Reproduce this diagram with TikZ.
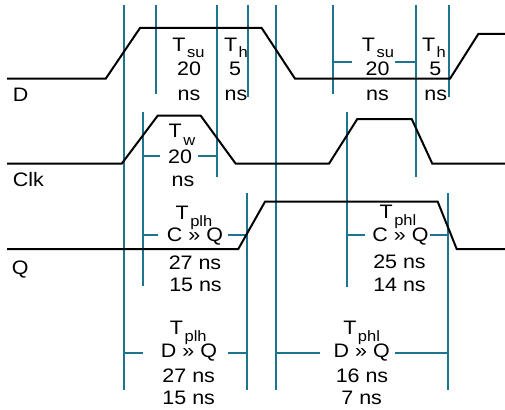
\documentclass[tikz,border=0pt]{standalone}
\usepackage{fontspec}
\setmainfont{Liberation Sans}[FakeStretch=1.1]
\definecolor{tealline}{RGB}{27,117,145}
\newcommand{\Tsb}[2]{T\kern1.5pt\raisebox{-#2pt}{\fontsize{15}{15}\selectfont #1}}
\begin{document}
\begin{tikzpicture}[x=1pt,y=-1pt,
  wave/.style={line width=2pt,black},
  vline/.style={line width=2pt,tealline},
  dimline/.style={line width=2pt,tealline},
  lbl/.style={anchor=base,inner sep=0pt,font=\fontsize{19.5}{19.5}\selectfont}]
\useasboundingbox (0,0) rectangle (505,409);
% vertical reference lines
\draw[vline] (124,5) -- (124,390);
\draw[vline] (155.7,5) -- (155.7,94);
\draw[vline] (217,5) -- (217,177);
\draw[vline] (248,5) -- (248,97);
\draw[vline] (142.7,111.7) -- (142.7,286);
\draw[vline] (247,193) -- (247,390);
\draw[vline] (275.7,5) -- (275.7,390);
\draw[vline] (333.3,5) -- (333.3,94);
\draw[vline] (415.7,5) -- (415.7,177);
\draw[vline] (449,5) -- (449,97);
\draw[vline] (347.3,111.7) -- (347.3,286.7);
\draw[vline] (448.3,193) -- (448.3,390);
% dimension lines
\draw[dimline] (333.3,62.3) -- (351.7,62.3) (395,62.3) -- (415.7,62.3);
\draw[dimline] (142.7,155.5) -- (160,155.5) (198.3,155.5) -- (217,155.5);
\draw[dimline] (142.7,235) -- (158.3,235) (227.7,235) -- (247,235);
\draw[dimline] (347.3,235) -- (365,235) (430,235) -- (448.3,235);
\draw[dimline] (124,353) -- (142.7,353) (227.7,353) -- (247,353);
\draw[dimline] (275.7,353) -- (320,353) (395,353) -- (448.3,353);
% waveforms
\draw[wave] (7,78.7) -- (105.7,78.7) -- (140,28) -- (261.7,28) -- (295,78.7) -- (450,78.7) -- (478.3,34) -- (505,34);
\draw[wave] (7,163.7) -- (121.7,163.7) -- (157.7,115.7) -- (200.7,115.7) -- (235.7,163.7) -- (329,163.7) -- (357.3,119) -- (411.7,119) -- (432.3,163.7) -- (505,163.7);
\draw[wave] (7,249) -- (238.3,249) -- (265,201.7) -- (437.7,201.7) -- (456.7,249) -- (505,249);
% signal labels
\node[lbl,anchor=base west] (lD) at (12.7,101.7) {D};
\node[lbl,anchor=base west] (lClk) at (12.7,186.7) {Clk};
\node[lbl,anchor=base west] (lQ) at (11.7,274) {Q};
% setup / hold 1
\node[lbl] (tsua) at (188.5,52) {\Tsb{su}{5.6}};
\node[lbl] (tsub) at (189,76) {20};
\node[lbl] (tsuc) at (189,101) {ns};
\node[lbl] (tha) at (236,52) {\Tsb{h}{5.6}};
\node[lbl] (thb) at (235,76) {5};
\node[lbl] (thc) at (236,101) {ns};
% setup / hold 2
\node[lbl] (tsud) at (378,52) {\Tsb{su}{5.6}};
\node[lbl] (tsue) at (377.5,76) {20};
\node[lbl] (tsuf) at (377.5,101) {ns};
\node[lbl] (thd) at (434,52) {\Tsb{h}{5.6}};
\node[lbl] (the) at (435.3,76) {5};
\node[lbl] (thf) at (435.7,101) {ns};
% pulse width
\node[lbl] (twa) at (182,137.3) {\Tsb{w}{7.7}};
\node[lbl] (twb) at (180,163.3) {20};
\node[lbl] (twc) at (183,186.7) {ns};
% Tplh C>Q
\node[lbl] (pca) at (194,219) {\Tsb{plh}{7}};
\node[lbl] (pcb) at (195,241) {C » Q};
\node[lbl] (pcc) at (195,269) {27 ns};
\node[lbl] (pcd) at (195.5,291.7) {15 ns};
% Tphl C>Q
\node[lbl] (hca) at (398,218.5) {\Tsb{phl}{7}};
\node[lbl] (hcb) at (400.5,241.5) {C » Q};
\node[lbl] (hcc) at (399.5,268) {25 ns};
\node[lbl] (hcd) at (399.5,291) {14 ns};
% Tplh D>Q
\node[lbl] (pda) at (188.3,334.5) {\Tsb{plh}{7}};
\node[lbl] (pdb) at (189,357) {D » Q};
\node[lbl] (pdc) at (188.7,382.5) {27 ns};
\node[lbl] (pdd) at (188.7,404.5) {15 ns};
% Tphl D>Q
\node[lbl] (hda) at (361.7,334.5) {\Tsb{phl}{7}};
\node[lbl] (hdb) at (361.7,357) {D » Q};
\node[lbl] (hdc) at (362,382.5) {16 ns};
\node[lbl] (hdd) at (361.7,404.5) {7 ns};
\end{tikzpicture}
\end{document}
